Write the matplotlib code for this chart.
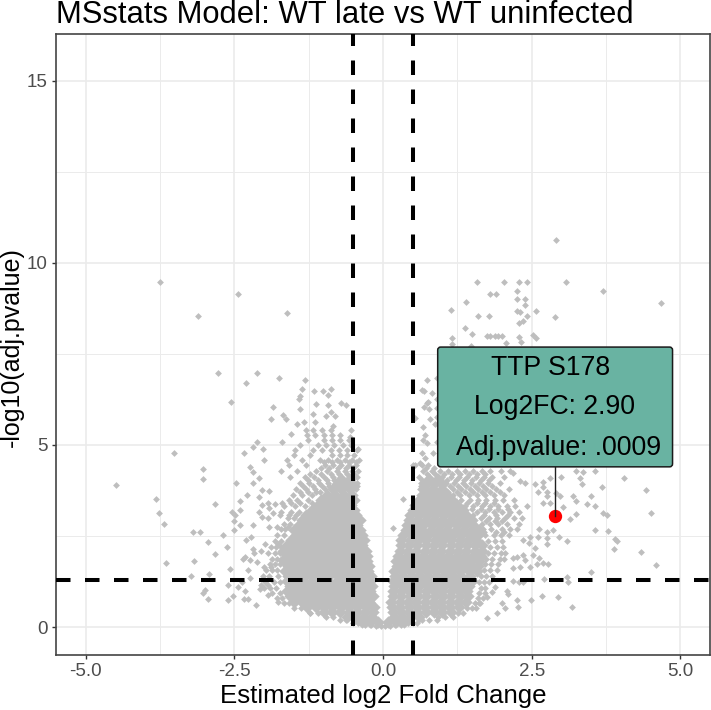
import matplotlib
matplotlib.use('Agg')
import matplotlib.pyplot as plt
from matplotlib.patches import FancyBboxPatch

plt.rcParams['font.family'] = ['Liberation Sans', 'DejaVu Sans']

TITLE = 'MSstats Model: WT late vs WT uninfected'
X_LABEL = 'Estimated log2 Fold Change'
Y_LABEL = '-log10(adj.pvalue)'
X_TICKS = [-5.0, -2.5, 0.0, 2.5, 5.0]
Y_TICKS = [0, 5, 10, 15]
X_CUT = [-0.5, 0.5]
Y_CUT = 1.3
HIGHLIGHT = (2.90, 3.05)
LABEL_LINES = ['TTP S178', 'Log2FC: 2.90', 'Adj.pvalue: .0009']

# thousands of overlapping points in the reference, so the solid part of the
# cloud is read off row by row: (-log10 p, [log2 fc, ...])
core_rows = [
    (0.14, [-.36, -.22, -.08, .08, .22, .36]),
    (0.28, [-.60, -.46, -.32, -.18, .18, .32, .46, .60]),
    (0.42, [-1.0, -.86, -.72, -.58, -.44, -.30, -.16, .16, .30, .44, .58, .72, .86, 1.0, 1.14]),
    (0.56, [-1.27, -1.13, -.99, -.85, -.71, -.57, -.43, -.29, -.15, .15, .29, .43, .57, .71, .85, .99, 1.13, 1.27]),
    (0.70, [-1.50, -1.36, -1.22, -1.08, -.94, -.80, -.66, -.52, -.38, -.24, .14, .28, .42, .56, .70, .84, .98, 1.12, 1.26, 1.40]),
    (0.84, [-1.57, -1.43, -1.29, -1.15, -1.01, -.87, -.73, -.59, -.45, -.31, -.17, .17, .31, .45, .59, .73, .87, 1.01, 1.15, 1.29, 1.43]),
    (0.98, [-1.62, -1.48, -1.34, -1.20, -1.06, -.92, -.78, -.64, -.50, -.36, -.22, .16, .30, .44, .58, .72, .86, 1.00, 1.14, 1.28, 1.42]),
    (1.12, [-1.57, -1.43, -1.29, -1.15, -1.01, -.87, -.73, -.59, -.45, -.31, -.19, .19, .33, .47, .61, .75, .89, 1.03, 1.17, 1.31, 1.45]),
    (1.26, [-1.62, -1.48, -1.34, -1.20, -1.06, -.92, -.78, -.64, -.50, -.36, -.22, .16, .28, .42, .56, .70, .84, .98, 1.12, 1.26, 1.40, 1.50]),
    (1.40, [-1.60, -1.46, -1.32, -1.18, -1.04, -.90, -.76, -.62, -.48, -.34, -.21, .20, .34, .48, .62, .76, .90, 1.04, 1.18, 1.32, 1.46]),
    (1.54, [-1.65, -1.51, -1.37, -1.23, -1.09, -.95, -.81, -.67, -.53, -.39, -.25, .18, .32, .46, .60, .74, .88, 1.02, 1.16, 1.30, 1.44, 1.58]),
    (1.68, [-1.60, -1.46, -1.32, -1.18, -1.04, -.90, -.76, -.62, -.48, -.34, -.24, .24, .38, .52, .66, .80, .94, 1.08, 1.22, 1.36, 1.50, 1.60]),
    (1.82, [-1.67, -1.53, -1.39, -1.25, -1.11, -.97, -.83, -.69, -.55, -.41, -.27, .22, .34, .48, .62, .76, .90, 1.04, 1.18, 1.32, 1.46, 1.62]),
    (1.96, [-1.62, -1.48, -1.34, -1.20, -1.06, -.92, -.78, -.64, -.50, -.36, -.27, .26, .40, .54, .68, .82, .96, 1.10, 1.24, 1.38, 1.52, 1.64]),
    (2.10, [-1.68, -1.54, -1.40, -1.26, -1.12, -.98, -.84, -.70, -.56, -.42, -.29, .28, .42, .56, .70, .84, .98, 1.12, 1.26, 1.40, 1.54, 1.66]),
    (2.24, [-1.61, -1.47, -1.33, -1.19, -1.05, -.91, -.77, -.63, -.49, -.35, .30, .44, .58, .72, .86, 1.00, 1.14, 1.28, 1.42, 1.54, 1.66]),
    (2.38, [-1.55, -1.41, -1.27, -1.13, -.99, -.85, -.71, -.57, -.43, -.32, .31, .45, .59, .73, .87, 1.01, 1.15, 1.29, 1.43, 1.57]),
    (2.52, [-1.46, -1.32, -1.18, -1.04, -.90, -.76, -.62, -.48, -.35, .34, .48, .62, .76, .90, 1.04, 1.18, 1.32, 1.46, 1.60]),
    (2.66, [-1.50, -1.36, -1.22, -1.08, -.94, -.80, -.66, -.52, -.38, .38, .52, .66, .80, .94, 1.08, 1.22, 1.36, 1.50, 1.62]),
    (2.80, [-1.42, -1.28, -1.14, -1.00, -.86, -.72, -.58, -.44, .40, .54, .68, .82, .96, 1.10, 1.24, 1.38, 1.52]),
    (2.94, [-1.36, -1.22, -1.08, -.94, -.80, -.66, -.52, -.38, .44, .58, .72, .86, 1.00, 1.14, 1.28, 1.42, 1.50]),
    (3.08, [-1.29, -1.15, -1.01, -.87, -.73, -.59, -.45, .46, .60, .74, .88, 1.02, 1.16, 1.30, 1.40]),
    (3.22, [-1.19, -1.05, -.91, -.77, -.63, -.49, .50, .64, .78, .92, 1.06, 1.20, 1.34]),
    (3.36, [-1.09, -.95, -.81, -.67, -.53, .54, .68, .82, .96, 1.10, 1.24]),
    (3.50, [-1.04, -.90, -.76, -.62, -.48, .60, .74, .88, 1.02, 1.16]),
    (3.64, [-.94, -.80, -.66, -.52, .65, .79, .93, 1.07]),
    (3.78, [-.84, -.70, -.56, .70, .84, 1.00]),
    (3.92, [-.77, -.63, -.52, .72, .86, 1.00]),
    (4.06, [-.70, -.56, .78, .92]),
]

# texture round the solid part, same row layout, smaller marks
edge_rows = [
    (0.03, [-.12, -.04, .04, .12]),
    (0.06, [-.30, -.20, .20, .30]),
    (0.10, [-.50, -.42, .42, .50, .58]),
    (0.18, [-.72, -.62, .66, .78, .90]),
    (0.27, [-.96, -.84, .92, 1.04, 1.18]),
    (0.38, [-1.22, -1.10, 1.26, 1.34]),
    (0.52, [-1.50, -1.38, 1.42, 1.50, 1.56]),
    (0.66, [-1.66, -1.58, 1.54, 1.62]),
    (0.80, [-1.78, -1.70, 1.60, 1.68]),
    (0.94, [-1.86, -1.74, 1.62, 1.72]),
    (1.08, [-2.00, -1.90, -1.80, 1.64, 1.72]),
    (1.16, [-2.06, -1.94]),
    (1.24, [-1.98, -1.84, -1.74, 1.62, 1.70, 1.78]),
    (1.40, [-2.02, -1.92, -1.76, 1.64, 1.74, 1.84]),
    (1.56, [-1.96, -1.86, -1.78, 1.70, 1.80, 1.92]),
    (1.64, [-2.00, -1.88]),
    (1.72, [-1.90, -1.82, -1.74, 1.72, 1.82, 1.94]),
    (1.88, [-1.86, -1.78, -1.72, 1.74, 1.84, 1.96, 2.04]),
    (2.04, [-1.94, -1.82, -1.74, 1.76, 1.86, 1.98, 2.06]),
    (2.20, [-1.88, -1.80, -1.72, 1.80, 1.92, 2.02]),
    (2.28, [-1.98, -1.76]),
    (2.36, [-1.82, -1.72, 1.76, 1.88, 2.00]),
    (2.52, [-1.78, -1.66, 1.72, 1.86, 1.98, 2.12]),
    (2.60, [1.70, 1.90, 2.04]),
    (2.68, [-1.72, -1.64, 1.68, 1.82, 2.00, 2.14, 2.26]),
    (2.76, [-1.92, -1.78, -1.60]),
    (2.84, [-1.66, -1.56, 1.66, 1.80, 1.94, 2.08, 2.28]),
    (2.92, [1.74, 1.88, 2.00]),
    (3.00, [-1.60, -1.50, 1.64, 1.78, 1.92, 2.06, 2.20, 2.34]),
    (3.08, [-1.74, -1.58, -1.46, 1.52, 1.70, 1.90, 2.10]),
    (3.16, [-1.72, -1.54, -1.42, 1.58, 1.72, 1.86, 2.00, 2.14, 2.28]),
    (3.24, [1.50, 1.64, 1.78, 1.94, 2.10]),
    (3.32, [-1.66, -1.48, -1.32, 1.38, 1.52, 1.66, 1.80, 1.94, 2.08, 2.22, 2.42]),
    (3.40, [-1.70, -1.55, -1.40, -1.20, 1.42, 1.58, 1.72, 1.86]),
    (3.48, [-1.58, -1.44, -1.26, 1.32, 1.46, 1.60, 1.74, 1.88, 2.02, 2.20]),
    (3.64, [-1.52, -1.36, -1.20, 1.18, 1.30, 1.44, 1.58, 1.72, 1.86, 2.04]),
    (3.72, [-1.40, -1.26, -1.12, -1.06, 1.10, 1.24, 1.38, 1.52, 1.66, 1.80, 1.96]),
    (3.80, [-1.46, -1.30, -1.14, -.98, -.46, .62, 1.18, 1.32, 1.46, 1.60, 1.74, 1.90, 2.12]),
    (3.88, [-1.34, -1.18, -1.02, -.90, -.44, .64, 1.12, 1.26, 1.40, 1.54, 1.68, 1.84]),
    (3.96, [-1.40, -1.24, -1.08, -.92, -.44, .64, 1.06, 1.20, 1.34, 1.48, 1.62, 1.76, 1.96]),
    (4.04, [-1.26, -1.10, -.94, -.82, .66, 1.08, 1.22, 1.36, 1.50, 1.64, 1.78]),
    (4.12, [-1.56, -1.32, -1.16, -1.00, -.84, -.44, .60, 1.00, 1.14, 1.28, 1.42, 1.56, 1.70, 1.84, 2.04]),
    (4.20, [-1.22, -1.04, -.88, -.74, -.60, -.48, .74, .88, 1.02, 1.16, 1.30, 1.44, 1.58, 1.72]),
    (4.28, [-1.72, -1.44, -1.12, -.94, -.78, -.64, -.52, -.42, .68, .82, .96, 1.10, 1.24, 1.38, 1.52, 1.66, 1.80, 1.98, 2.14]),
    (4.36, [-1.04, -.90, -.76, -.62, -.50, .72, .86]),
    (4.44, [-1.58, -1.30, -.98, -.84, -.70, -.58, -.46, .54, .66]),
    (4.52, [-1.00, -.86, -.72, -.58, -.46]),
    (4.60, [-1.62, -1.36, -1.06, -.92, -.78, -.64, -.52, -.40]),
    (4.72, [-1.50, -1.22, -.86, -.72, -.60, -.48]),
    (4.86, [-1.48, -1.18, -1.02, -.88, -.74, -.60, -.44]),
    (5.00, [-1.40, -1.10, -.96, -.82, -.68, -.54]),
    (5.14, [-1.26, -1.00, -.86, -.72, -.58]),
    (5.28, [-1.28, -1.14, -1.00, -.86, -.72]),
    (5.42, [-1.30, -1.18, -1.02, -.88, -.54]),
]

# points that stand alone and can be read one by one: (log2 fc, -log10 p)
lone_points = [
    (-3.75, 9.48), (-2.44, 9.15), (-3.11, 8.54), (-1.61, 8.63), (-2.77, 6.98), (-2.12, 6.98),
    (-2.30, 6.70), (-1.75, 6.84), (-1.31, 6.79), (-2.55, 6.18), (-1.36, 6.54), (-1.16, 6.48),
    (-1.01, 6.48), (-.87, 6.54), (-.92, 6.37), (-1.39, 6.35), (-1.41, 6.26), (-.71, 6.15),
    (-.62, 6.10), (-1.85, 6.04), (-1.13, 6.13), (-.92, 6.10), (-1.39, 5.99), (-.87, 5.91),
    (-1.18, 5.85), (-1.68, 5.82), (-1.63, 5.71), (-1.88, 5.71), (-.96, 5.80), (-.81, 5.80),
    (-1.45, 5.58), (-1.33, 5.63), (-1.14, 5.63), (-.84, 5.52), (-1.55, 5.30), (-2.12, 5.08),
    (-1.70, 5.08), (-2.18, 4.95), (-2.02, 4.89), (-2.34, 4.78), (-3.51, 4.78), (-2.00, 4.59),
    (-2.24, 4.40), (-3.03, 4.34), (-.42, 4.89), (-.55, 5.22),
    (-4.49, 3.90), (-3.03, 4.07), (-3.82, 3.52), (-3.76, 3.13), (-3.68, 2.83), (-2.82, 3.38),
    (-2.47, 3.96), (-2.18, 4.26), (-2.08, 4.09), (-2.18, 3.96), (-2.29, 3.63), (-2.03, 3.76),
    (-1.92, 3.74), (-2.40, 3.46), (-2.40, 3.21), (-2.54, 3.16), (-2.49, 3.08), (-2.50, 2.91),
    (-2.40, 2.80), (-2.50, 2.66), (-2.18, 2.80), (-2.08, 3.57), (-2.03, 3.35), (-2.08, 3.16),
    (-2.03, 3.02), (-1.93, 3.41), (-1.92, 3.27), (-1.82, 3.38), (-1.85, 3.13), (-1.93, 3.00),
    (-3.19, 2.61), (-3.08, 2.61), (-2.69, 2.53), (-2.94, 2.33), (-2.62, 2.20), (-2.82, 2.00),
    (-3.65, 1.76), (-3.18, 1.81), (-2.92, 1.46), (-3.23, 1.40), (-2.57, 1.59), (-2.30, 2.39),
    (-2.22, 2.47), (-2.32, 1.92), (-2.35, 1.87), (-2.18, 2.14), (-2.17, 2.03), (-2.05, 2.09),
    (-2.24, 1.84), (-2.12, 1.79), (-2.27, 1.57), (-2.24, 1.35), (-2.60, 1.15), (-2.44, 1.10),
    (-2.37, 1.24), (-2.99, 1.02), (-3.03, .93), (-2.94, .77), (-2.52, .85), (-2.60, .74),
    (-2.32, .99), (-2.34, .77), (-2.27, .77), (-2.13, .60), (-2.07, 1.04), (-1.93, .88),
    (-1.76, .69), (-1.23, .38),
    (2.91, 10.63), (1.58, 9.48), (2.03, 9.48), (2.29, 9.48), (2.42, 9.48), (3.08, 9.48),
    (3.70, 9.23), (4.67, 8.90), (1.80, 9.15), (1.90, 9.15), (2.25, 9.23), (2.25, 9.01),
    (2.39, 9.01), (1.39, 8.93), (2.39, 8.85), (1.14, 8.71), (2.25, 8.68), (2.30, 8.65),
    (2.57, 8.68), (1.60, 8.54), (1.78, 8.54), (2.42, 8.54), (2.89, 8.52), (2.35, 8.41),
    (2.29, 8.35), (1.38, 8.21), (1.50, 8.05), (1.75, 7.99), (1.80, 7.99), (1.88, 7.99),
    (1.93, 7.99), (2.00, 7.99), (2.29, 7.97), (2.52, 8.02), (2.57, 7.94), (1.16, 7.94),
    (1.16, 7.77), (2.32, 7.83), (2.07, 7.80), (1.48, 7.72),
    (.74, 6.79), (.90, 6.84), (.66, 6.51), (.69, 6.48), (.82, 6.43), (.76, 6.18), (.74, 6.15),
    (.69, 6.04), (.77, 5.99), (.90, 6.26), (.90, 6.02), (.54, 5.74), (.79, 5.71), (.67, 5.49),
    (.87, 5.58), (.90, 5.77), (.71, 5.27), (.67, 5.14), (.74, 5.05), (.90, 5.08), (.66, 4.78),
    (.71, 4.64), (.84, 4.78), (.50, 4.45), (.62, 4.51), (.76, 4.45),
    (4.05, 4.09), (4.42, 3.76), (4.50, 3.13), (3.68, 3.85), (3.56, 4.29), (3.36, 4.26),
    (3.24, 4.29), (3.31, 4.09), (3.34, 3.93), (3.50, 3.60), (3.19, 3.60), (3.24, 3.46),
    (3.43, 3.38), (3.56, 3.32), (3.70, 3.13), (3.76, 3.08), (3.24, 3.10), (3.14, 2.97),
    (3.03, 3.30), (2.97, 3.60), (2.91, 3.68), (3.00, 4.12), (2.81, 4.09), (2.69, 3.98),
    (2.69, 3.85), (2.55, 3.93), (2.61, 3.71), (2.76, 3.71), (2.76, 3.60), (2.69, 3.41),
    (2.81, 3.41), (3.56, 2.66), (3.78, 2.64), (3.90, 2.42), (3.93, 2.36), (3.88, 2.14),
    (4.34, 2.06), (4.60, 1.70), (3.50, 1.51), (3.09, 2.36), (2.96, 2.47), (2.86, 2.66),
    (2.76, 2.61), (2.62, 2.69), (2.76, 2.44), (2.76, 2.28), (2.61, 2.47), (2.47, 2.47),
    (2.45, 2.31), (2.55, 2.17), (2.35, 2.39), (3.09, 1.37), (3.11, 1.24), (2.71, 1.32),
    (2.62, 1.90), (2.69, 1.76), (2.77, 1.73), (2.59, 1.73), (2.52, 1.98), (2.47, 1.65),
    (2.35, 1.98), (2.39, 1.84), (2.18, 1.90), (2.25, 1.92), (2.30, 1.65), (2.18, 1.62),
    (2.35, 1.24), (2.29, 1.24), (2.18, 1.26), (2.94, .82), (2.67, .85), (2.49, .74),
    (2.25, .74), (2.27, .55), (3.18, .55), (2.08, .99), (2.10, .91), (2.00, .66), (2.05, .52),
    (1.75, .25), (1.92, .38), (1.75, .82), (1.83, .96), (1.88, 1.10), (1.63, .66), (.17, 2.72),
    (.34, 3.52), (2.18, 4.23), (2.30, 4.01), (2.39, 3.96),
]

core_x = [x for row in core_rows for x in row[1]]
core_y = [row[0] for row in core_rows for x in row[1]]
small_x = [x for row in edge_rows for x in row[1]] + [p[0] for p in lone_points]
small_y = [row[0] for row in edge_rows for x in row[1]] + [p[1] for p in lone_points]

fig = plt.figure(figsize=(7.11, 7.10), dpi=100)
ax = fig.add_axes([56 / 711, 1 - 654.5 / 710, 654 / 711, 620.5 / 710])
ax.set_xlim(-5.5, 5.5)
ax.set_ylim(-0.755, 16.29)
ax.set_axisbelow(True)

ax.set_xticks(X_TICKS)
ax.set_xticklabels(['%.1f' % t for t in X_TICKS])
ax.set_yticks(Y_TICKS)
ax.set_xticks([-3.75, -1.25, 1.25, 3.75], minor=True)
ax.set_yticks([2.5, 7.5, 12.5], minor=True)
ax.grid(which='major', color='#ebebeb', lw=1.2)
ax.grid(which='minor', color='#ebebeb', lw=0.7)
ax.tick_params(which='minor', length=0)
ax.tick_params(which='major', length=3, width=1, color='#333333',
               labelsize=13.5, labelcolor='#4d4d4d', pad=3)
for s in ax.spines.values():
    s.set_color('#444444')
    s.set_linewidth(1.2)

grey = '#bebebe'
ax.scatter(core_x, core_y, marker='D', s=40, color=grey, linewidths=0, zorder=2)
ax.scatter(small_x, small_y, marker='D', s=12, color=grey, linewidths=0, zorder=2)

# cut-offs, dash pattern starts at the bottom/left like the reference
dash = (0, (3.6, 3.6))
for c in X_CUT:
    ax.plot([c, c], ax.get_ylim(), color='black', lw=2.9, ls=dash, zorder=3)
ax.plot(ax.get_xlim(), [Y_CUT, Y_CUT], color='black', lw=2.9, ls=dash, zorder=3)

# highlighted site with its label box
ax.scatter([HIGHLIGHT[0]], [HIGHLIGHT[1]], s=92, color='#ff0000', linewidths=0, zorder=4)
ax.plot([HIGHLIGHT[0], HIGHLIGHT[0]], [HIGHLIGHT[1], 4.40], color='#222222', lw=1, zorder=5)
box = FancyBboxPatch((0.92, 4.40), 3.95, 3.29, boxstyle='round,pad=0,rounding_size=0.05',
                     mutation_aspect=59.5 / 36.4, fc='#69b3a2', ec='#1a1a1a', lw=1.1, zorder=6)
ax.add_patch(box)
for line, tx, ty in zip(LABEL_LINES, [2.82, 2.89, 2.95], [7.12, 6.04, 4.93]):
    ax.text(tx, ty, line, ha='center', va='center', fontsize=19.2, color='black', zorder=7)

fig.text(56 / 711, 1 - 23 / 710, TITLE, fontsize=22.3, color='black', ha='left', va='baseline')
fig.text(383 / 711, 1 - 703 / 710, X_LABEL, fontsize=18.6, color='black', ha='center', va='baseline')
fig.text(12 / 711, 1 - 347 / 710, Y_LABEL, fontsize=18, color='black', rotation=90, ha='center', va='center')

fig.savefig('out.png', dpi=100)
